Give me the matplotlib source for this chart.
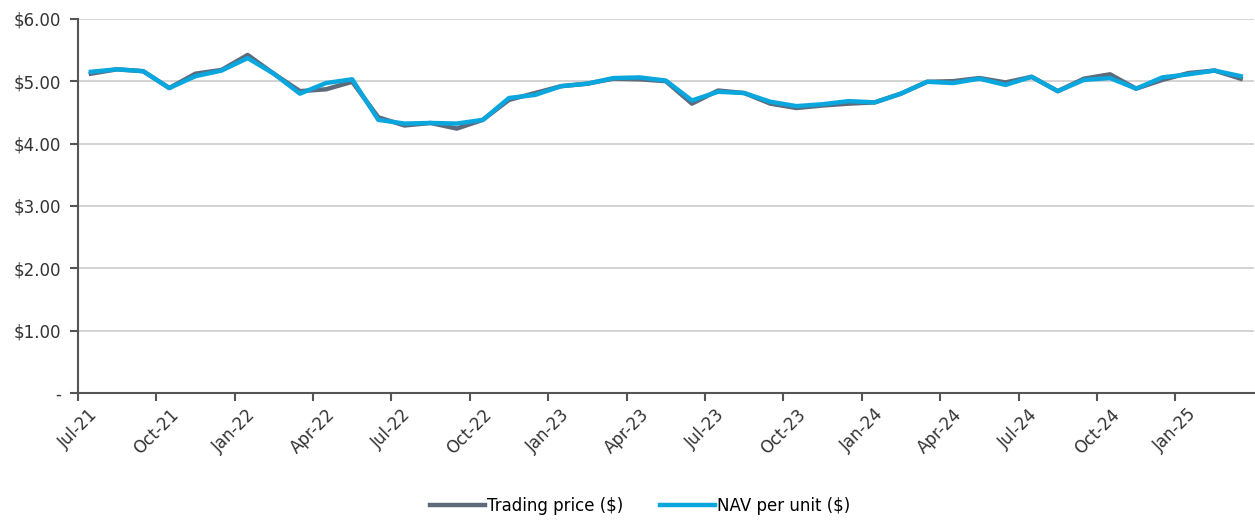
import numpy as np
import matplotlib.pyplot as plt
from matplotlib.ticker import FixedLocator

months = ["Jul-21", "Aug-21", "Sep-21", "Oct-21", "Nov-21", "Dec-21",
          "Jan-22", "Feb-22", "Mar-22", "Apr-22", "May-22", "Jun-22",
          "Jul-22", "Aug-22", "Sep-22", "Oct-22", "Nov-22", "Dec-22",
          "Jan-23", "Feb-23", "Mar-23", "Apr-23", "May-23", "Jun-23",
          "Jul-23", "Aug-23", "Sep-23", "Oct-23", "Nov-23", "Dec-23",
          "Jan-24", "Feb-24", "Mar-24", "Apr-24", "May-24", "Jun-24",
          "Jul-24", "Aug-24", "Sep-24", "Oct-24", "Nov-24", "Dec-24",
          "Jan-25", "Feb-25", "Mar-25"]

trading = [5.12, 5.19, 5.16, 4.89, 5.12, 5.18, 5.42, 5.12, 4.84, 4.87, 4.99, 4.42,
           4.29, 4.33, 4.24, 4.38, 4.70, 4.81, 4.92, 4.96, 5.04, 5.03, 5.00, 4.64,
           4.85, 4.81, 4.64, 4.57, 4.61, 4.64, 4.66, 4.80, 4.99, 5.00, 5.05, 4.98,
           5.07, 4.84, 5.04, 5.11, 4.88, 5.02, 5.13, 5.17, 5.04]

nav = [5.15, 5.19, 5.16, 4.89, 5.08, 5.17, 5.37, 5.12, 4.80, 4.97, 5.03, 4.38,
       4.32, 4.33, 4.32, 4.38, 4.73, 4.78, 4.92, 4.96, 5.05, 5.06, 5.01, 4.69,
       4.83, 4.81, 4.67, 4.60, 4.63, 4.68, 4.66, 4.80, 4.99, 4.97, 5.04, 4.94,
       5.07, 4.84, 5.02, 5.05, 4.88, 5.06, 5.11, 5.17, 5.08]

y_ticks = [0, 1, 2, 3, 4, 5, 6]
y_labels = ["-", "$1.00", "$2.00", "$3.00", "$4.00", "$5.00", "$6.00"]

plt.rcParams['font.family'] = ['DejaVu Sans']

fig = plt.figure(figsize=(12.55, 5.22), dpi=100)
ax = fig.add_axes([0.062, 0.247, 0.937, 0.717])

x = np.arange(len(months)) + 0.5
ax.plot(x, trading, color='#5d6a7a', lw=3.2, label='Trading price ($)', zorder=3)
ax.plot(x, nav, color='#0aa6de', lw=3.2, label='NAV per unit ($)', zorder=4)

ax.set_xlim(0, len(months))
ax.set_ylim(0, 6)
ax.set_yticks(y_ticks)
ax.set_yticklabels(y_labels, fontsize=12, color='#333333')
ax.xaxis.set_major_locator(FixedLocator(np.arange(0, len(months), 3)))
ax.set_xticklabels(months[::3], rotation=45, ha='center',
                   fontsize=12, color='#333333')

ax.grid(axis='y', color='#d0d0d0', lw=1.3)
ax.set_axisbelow(True)
for s in ['top', 'right']:
    ax.spines[s].set_visible(False)
for s in ['left', 'bottom']:
    ax.spines[s].set_color('#555555')
    ax.spines[s].set_linewidth(1.5)
ax.tick_params(axis='both', color='#555555', width=1.5, length=6)
ax.tick_params(axis='y', pad=6)
ax.tick_params(axis='x', pad=3)

fig.legend(loc='lower center', bbox_to_anchor=(0.51, -0.015), ncol=2, frameon=False,
           fontsize=12, handlelength=3.3, handletextpad=0.1, columnspacing=2.2)

fig.savefig('out.png', dpi=100)
